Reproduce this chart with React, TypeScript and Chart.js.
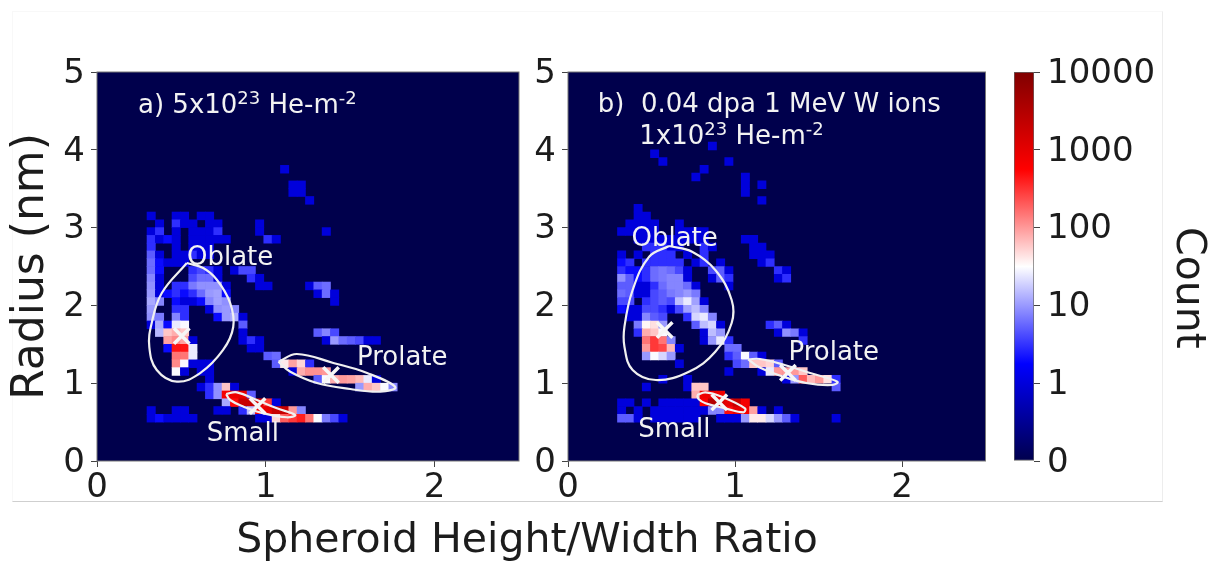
import React, { useEffect, useRef } from "react";
import { Chart, registerables } from "chart.js";

Chart.register(...registerables);

const FONT = "'DejaVu Sans', sans-serif";
const INK = "#1c1c1c";
const NOTE = "#f2f2f2";
const NAVY = "#00004c";

// Histogram bin widths in data units
const RATIO_BIN = 0.0494;
const RADIUS_BIN = 0.1;

// Runs of counts: [radius bin, first ratio bin, count, count, ...]
const countsA: number[][] = [
  [37, 22, 1], [35, 23, 1, 1], [34, 23, 1, 1], [33, 25, 1],
  [31, 6, 1], [31, 9, 1, 1], [31, 12, 1, 1],
  [30, 7, 1], [30, 9, 3, 1, 1], [30, 13, 1, 1], [30, 19, 1],
  [29, 6, 1, 3], [29, 9, 1], [29, 11, 1, 1, 1, 3], [29, 19, 1], [29, 27, 1],
  [28, 6, 3, 1, 2, 1], [28, 11, 1, 1, 1, 1, 1], [28, 20, 3, 1],
  [27, 6, 3], [27, 9, 1], [27, 11, 1, 1, 1],
  [26, 6, 5, 1], [26, 9, 1, 1, 3, 1, 1],
  [25, 6, 6, 2, 1, 1, 1],
  [24, 6, 6, 2], [24, 11, 3, 4, 3, 1], [24, 16, 1, 4, 4],
  [23, 6, 8, 1], [23, 11, 4, 6, 6, 1], [23, 18, 3, 1],
  [22, 6, 9, 1], [22, 9, 3, 3, 7, 9, 9, 9, 1], [22, 19, 1, 1], [22, 25, 1, 5, 6],
  [21, 6, 10, 1, 2, 3, 2, 3, 6, 10, 11, 2], [21, 26, 1, 6, 1],
  [20, 6, 12, 8], [20, 9, 2, 1, 1, 2, 8, 11, 9], [20, 28, 1],
  [19, 6, 10], [19, 9, 3, 3], [19, 13, 1, 9, 10, 8],
  [18, 6, 9, 7], [18, 9, 8, 3], [18, 14, 2, 10, 12, 1],
  [17, 6, 1, 12, 2, 25, 30], [17, 17, 5],
  [16, 7, 14, 60, 80, 60], [16, 17, 1], [16, 26, 5, 8, 4],
  [15, 8, 90, 120, 90, 1], [15, 17, 1, 3, 1], [15, 27, 1, 10, 6, 5, 4, 1, 1],
  [14, 8, 2, 450, 450, 25], [14, 18, 1, 1],
  [13, 9, 150, 150, 25], [13, 20, 5, 6],
  [12, 9, 120, 30, 1, 1, 1], [12, 21, 5, 40, 90, 50, 3],
  [11, 9, 30, 1], [11, 12, 1, 1], [11, 23, 1, 80, 110, 110, 100],
  [10, 13, 1], [10, 26, 5, 30, 80, 100, 90, 70, 25, 1],
  [9, 12, 1, 3, 9, 60, 1], [9, 31, 10, 80, 60, 30, 8],
  [8, 13, 3, 9, 700, 800, 1000, 5],
  [7, 15, 12, 500, 2000, 2000, 1500, 300, 1],
  [6, 6, 1], [6, 9, 1, 1], [6, 14, 1, 1], [6, 17, 3, 15, 600, 1000, 2000, 2000, 100, 8],
  [5, 6, 1, 2, 1, 1, 1, 1], [5, 19, 1, 1, 50, 200, 300, 400, 150, 30, 7, 4, 1],
];

const countsB: number[][] = [
  [40, 17, 1], [39, 10, 1], [38, 11, 1], [38, 19, 1], [37, 16, 1], [36, 15, 1], [36, 21, 1],
  [35, 21, 1], [35, 23, 1], [34, 21, 1], [33, 23, 1],
  [32, 8, 1], [31, 8, 1, 1], [30, 7, 1, 1, 1, 1], [30, 13, 1],
  [29, 6, 1, 1, 1, 1, 1], [29, 13, 1, 1, 1, 1],
  [28, 8, 1, 1, 1, 1], [28, 12, 1, 1, 1, 1, 1], [28, 21, 1, 1],
  [27, 9, 3, 3, 3, 1, 1], [27, 16, 3, 1], [27, 22, 1, 1],
  [26, 6, 1], [26, 8, 1], [26, 10, 3, 3, 3], [26, 14, 1], [26, 16, 3], [26, 22, 1, 1, 1],
  [25, 6, 2, 3], [25, 9, 3, 3, 3, 3, 3], [25, 15, 1, 3], [25, 18, 1], [25, 23, 1, 3],
  [24, 6, 3, 2, 2, 3, 6, 7, 6, 4, 1], [24, 17, 4, 5, 1], [24, 25, 3, 1],
  [23, 6, 9, 5, 2, 3, 6, 7, 8, 8, 1], [23, 17, 1, 5, 3], [23, 25, 1, 3],
  [22, 6, 5, 5, 1, 1, 3, 6, 8, 8, 6, 1], [22, 19, 1],
  [21, 6, 6, 5, 1, 1, 4, 5, 7, 8, 10, 7],
  [20, 6, 4, 4], [20, 9, 3, 4, 5, 4, 15, 25, 11, 1],
  [19, 6, 2, 1, 1, 4, 4, 3, 1, 4, 11, 15, 8],
  [18, 7, 1, 1, 8, 5, 4], [18, 14, 3, 20, 25, 8],
  [17, 8, 7, 35, 45, 10], [17, 15, 5, 15, 20, 1], [17, 24, 3, 5, 1],
  [16, 8, 3, 80, 60, 30], [16, 16, 1, 15, 10], [16, 25, 1, 9, 7, 1],
  [15, 9, 150, 300, 150, 8], [15, 16, 1, 10, 25, 3], [15, 28, 3],
  [14, 9, 100, 300, 250, 70, 1], [14, 19, 6, 6],
  [13, 9, 10, 30, 20, 10], [13, 19, 3, 5, 30, 5, 1],
  [12, 13, 1], [12, 20, 4, 6, 60, 60, 50, 5],
  [11, 19, 1], [11, 23, 1, 25, 100, 100, 100, 60],
  [10, 11, 1], [10, 14, 1], [10, 26, 1, 10, 200, 70, 100, 45, 3],
  [9, 9, 1], [9, 14, 1], [9, 15, 60, 60], [9, 32, 5],
  [8, 15, 80, 800, 900, 800],
  [7, 6, 1, 1], [7, 9, 1], [7, 11, 1, 1, 1, 1, 1], [7, 16, 600, 3000, 1500, 1000, 2000, 700],
  [6, 6, 1], [6, 8, 1], [6, 10, 1, 1, 1, 1, 1, 1, 1], [6, 17, 8, 8, 500, 1000, 700, 90, 1], [6, 25, 1],
  [5, 6, 5, 5, 1], [5, 10, 1, 1, 1, 1, 1, 1], [5, 18, 1, 1, 1, 10, 40, 40, 20, 10, 5, 1], [5, 32, 1],
];

// Contours [ratio, radius]
const oblateA = [[0.532, 2.545], [0.384, 2.16], [0.324, 1.774], [0.31, 1.465], [0.354, 1.17], [0.473, 1.02], [0.611, 1.13], [0.747, 1.427], [0.807, 1.722], [0.789, 2.03], [0.71, 2.33], [0.629, 2.48], [0.532, 2.545]];
const prolateA = [[1.075, 1.276], [1.184, 1.375], [1.4, 1.26], [1.6, 1.131], [1.767, 0.951], [1.678, 0.891], [1.5, 0.925], [1.303, 1.003], [1.145, 1.148], [1.075, 1.276]];
const smallA = [[0.765, 0.861], [0.829, 0.883], [0.947, 0.784], [1.066, 0.677], [1.174, 0.591], [1.125, 0.562], [0.986, 0.613], [0.868, 0.698], [0.789, 0.784], [0.765, 0.861]];
const oblateB = [[0.605, 2.763], [0.486, 2.626], [0.387, 2.198], [0.338, 1.726], [0.338, 1.469], [0.387, 1.17], [0.526, 1.041], [0.724, 1.148], [0.882, 1.405], [0.98, 1.774], [0.98, 2.069], [0.882, 2.455], [0.743, 2.69], [0.605, 2.763]];
const prolateB = [[1.079, 1.307], [1.149, 1.311], [1.297, 1.234], [1.455, 1.127], [1.613, 1.019], [1.584, 0.977], [1.435, 0.999], [1.277, 1.093], [1.139, 1.212], [1.079, 1.307]];
const smallB = [[0.773, 0.848], [0.823, 0.883], [0.921, 0.826], [1.06, 0.677], [1.05, 0.626], [0.941, 0.677], [0.823, 0.742], [0.783, 0.793], [0.773, 0.848]];

// Cluster centres [ratio, radius]
const centresA = [[0.502, 1.607], [1.386, 1.105], [0.951, 0.707]];
const centresB = [[0.579, 1.684], [1.317, 1.135], [0.906, 0.754]];

// Labels inside the plots, at [ratio, radius] of the text's left baseline
const notesA = [
  { at: [0.243, 4.47], text: "a) 5x10^{23} He-m^{-2}" },
  { at: [0.533, 2.525], text: "Oblate" },
  { at: [1.54, 1.23], text: "Prolate" },
  { at: [0.65, 0.26], text: "Small" },
];
const notesB = [
  { at: [0.178, 4.49], text: "b)  0.04 dpa 1 MeV W ions" },
  { at: [0.427, 4.08], text: "1x10^{23} He-m^{-2}" },
  { at: [0.38, 2.76], text: "Oblate" },
  { at: [1.32, 1.3], text: "Prolate" },
  { at: [0.42, 0.31], text: "Small" },
];

const xTicks = [0, 1, 2];
const yTicks = [0, 1, 2, 3, 4, 5];
const colorbarLabels = ["0", "1", "10", "100", "1000", "10000"];
const colorbarSteps = [0, 1, 2, 3, 4, 5];
const seismicStops: [number, number[]][] = [
  [0, [0, 0, 76]],
  [0.25, [0, 0, 255]],
  [0.5, [255, 255, 255]],
  [0.75, [255, 0, 0]],
  [1, [128, 0, 0]],
];

function colourOf(count: number): string {
  const p = count <= 1 ? 0.2 * count : 0.2 + 0.2 * Math.log10(count);
  for (let i = 1; i < seismicStops.length; i++) {
    const [p1, c1] = seismicStops[i];
    const [p0, c0] = seismicStops[i - 1];
    if (p <= p1) {
      const t = (p - p0) / (p1 - p0);
      const m = c0.map((v, k) => Math.round(v + (c1[k] - v) * t));
      return `rgb(${m[0]},${m[1]},${m[2]})`;
    }
  }
  return "rgb(128,0,0)";
}

function toCells(runs: number[][]) {
  const cells: { x: number; y: number[]; count: number }[] = [];
  for (const [row, first, ...counts] of runs) {
    counts.forEach((count, i) => {
      cells.push({
        x: (first + i + 0.5) * RATIO_BIN,
        y: [row * RADIUS_BIN, (row + 1) * RADIUS_BIN],
        count,
      });
    });
  }
  return cells;
}

const contourDataset = (pts: number[][]) => ({
  type: "line",
  data: pts.map(([x, y]) => ({ x, y })),
  borderColor: "#f0f0f0",
  borderWidth: 2.2,
  tension: 0.4,
  pointRadius: 0,
  fill: false,
  order: 2,
});

const framePlugin = {
  id: "frame",
  beforeDatasetsDraw(chart: any) {
    if (!chart.options.plugins.frame?.fill) return;
    const { ctx, chartArea: a } = chart;
    ctx.save();
    ctx.fillStyle = NAVY;
    ctx.fillRect(a.left, a.top, a.right - a.left, a.bottom - a.top);
    ctx.restore();
  },
  afterDatasetsDraw(chart: any) {
    if (!chart.options.plugins.frame?.fill) return;
    const { ctx, chartArea: a } = chart;
    ctx.save();
    ctx.strokeStyle = "#777";
    ctx.lineWidth = 1;
    ctx.strokeRect(a.left, a.top, a.right - a.left, a.bottom - a.top);
    ctx.restore();
  },
};

const notesPlugin = {
  id: "notes",
  afterDatasetsDraw(chart: any) {
    const { ctx, scales } = chart;
    const cfg = chart.options.plugins.notes || {};
    ctx.save();
    ctx.fillStyle = NOTE;
    ctx.textBaseline = "alphabetic";
    ctx.textAlign = "left";
    for (const n of cfg.items || []) {
      let px = scales.x.getPixelForValue(n.at[0]);
      const py = scales.y.getPixelForValue(n.at[1]);
      n.text.split(/\^\{(.*?)\}/).forEach((part: string, i: number) => {
        const sup = i % 2 === 1;
        ctx.font = `${sup ? 18 : 26}px ${FONT}`;
        ctx.fillText(part, px, py - (sup ? 9 : 0));
        px += ctx.measureText(part).width;
      });
    }
    ctx.restore();
  },
};

const pageTextPlugin = {
  id: "pageText",
  afterDraw(chart: any) {
    const { ctx } = chart;
    const t = chart.options.plugins.pageText;
    if (!t?.text) return;
    ctx.save();
    ctx.translate(t.x, t.y);
    ctx.rotate(t.rotate || 0);
    ctx.font = `${t.size}px ${FONT}`;
    ctx.fillStyle = INK;
    ctx.textAlign = "center";
    ctx.textBaseline = "middle";
    ctx.fillText(t.text, 0, 0);
    ctx.restore();
  },
};

function panelConfig(opts: {
  runs: number[][];
  contours: number[][][];
  centres: number[][];
  notes: any[];
  left: number;
  right: number;
  pageText?: any;
  yTitle?: string;
}) {
  return {
    type: "bar",
    data: {
      datasets: [
        {
          type: "bar",
          data: toCells(opts.runs),
          backgroundColor: (c: any) => colourOf(c.raw?.count ?? 0),
          borderWidth: 0,
          grouped: false,
          barPercentage: 1,
          categoryPercentage: 1,
          order: 3,
        },
        ...opts.contours.map(contourDataset),
        {
          type: "scatter",
          data: opts.centres.map(([x, y]) => ({ x, y })),
          pointStyle: "crossRot",
          pointRadius: 11,
          pointBorderWidth: 3.5,
          pointBorderColor: "#f6f6f6",
          showLine: false,
          order: 1,
        },
      ],
    },
    options: {
      responsive: false,
      animation: false,
      layout: { padding: { left: 0, right: opts.right, top: 72, bottom: 0 } },
      scales: {
        x: {
          type: "linear",
          min: 0,
          max: 2.5,
          offset: false,
          afterBuildTicks: (s: any) => {
            s.ticks = xTicks.map((value) => ({ value }));
          },
          afterFit: (s: any) => {
            s.height = 103;
          },
          ticks: { font: { family: FONT, size: 34 }, color: INK, padding: 1, maxRotation: 0, autoSkip: false },
          grid: { display: true, drawOnChartArea: false, offset: false, tickLength: 6, color: "#444", tickWidth: 1 },
          border: { display: false },
        },
        y: {
          type: "linear",
          min: 0,
          max: 5,
          afterBuildTicks: (s: any) => {
            s.ticks = yTicks.map((value) => ({ value }));
          },
          afterFit: (s: any) => {
            s.width = opts.left;
          },
          title: opts.yTitle
            ? { display: true, text: opts.yTitle, color: INK, font: { family: FONT, size: 44 }, padding: { top: 5, bottom: 0 } }
            : { display: false },
          ticks: { font: { family: FONT, size: 34 }, color: INK, padding: 6, autoSkip: false, labelOffset: 2 },
          grid: { display: true, drawOnChartArea: false, tickLength: 6, color: "#444", tickWidth: 1 },
          border: { display: false },
        },
      },
      plugins: {
        legend: { display: false },
        tooltip: { enabled: false },
        frame: { fill: true },
        notes: { items: opts.notes },
        pageText: opts.pageText,
      },
    },
    plugins: [framePlugin, notesPlugin, pageTextPlugin],
  };
}

const colorbarConfig = {
  type: "bar",
  data: {
    labels: ["Count"],
    datasets: [
      {
        data: [[0, 5]],
        backgroundColor: (c: any) => {
          const a = c.chart.chartArea;
          if (!a) return "#fff";
          const g = c.chart.ctx.createLinearGradient(0, a.bottom, 0, a.top);
          seismicStops.forEach(([p, m]) => g.addColorStop(p, `rgb(${m[0]},${m[1]},${m[2]})`));
          return g;
        },
        borderWidth: 1,
        borderColor: "#666",
        borderSkipped: false,
        barPercentage: 1,
        categoryPercentage: 1,
      },
    ],
  },
  options: {
    responsive: false,
    animation: false,
    layout: { padding: { left: 14, right: 0, top: 72, bottom: 103 } },
    scales: {
      x: { display: false },
      y: {
        position: "right",
        min: 0,
        max: 5,
        afterBuildTicks: (s: any) => {
          s.ticks = colorbarSteps.map((value) => ({ value }));
        },
        afterFit: (s: any) => {
          s.width = 181;
        },
        ticks: {
          font: { family: FONT, size: 34 },
          color: INK,
          padding: 7,
          labelOffset: 2,
          callback: (v: number) => colorbarLabels[Math.round(v)],
        },
        grid: { display: true, drawOnChartArea: false, tickLength: 6, color: "#444", tickWidth: 1 },
        border: { display: false },
      },
    },
    plugins: {
      legend: { display: false },
      tooltip: { enabled: false },
      pageText: { text: "Count", x: 188, y: 288, size: 41, rotate: Math.PI / 2 },
    },
  },
  plugins: [pageTextPlugin],
};

export default function App() {
  const aRef = useRef<HTMLCanvasElement>(null);
  const bRef = useRef<HTMLCanvasElement>(null);
  const cRef = useRef<HTMLCanvasElement>(null);

  useEffect(() => {
    const a = new Chart(
      aRef.current as any,
      panelConfig({
        runs: countsA,
        contours: [oblateA, prolateA, smallA],
        centres: centresA,
        notes: notesA,
        left: 97,
        right: 535,
        yTitle: "Radius (nm)",
        pageText: { text: "Spheroid Height/Width Ratio", x: 527, y: 541, size: 41 },
      }) as any,
    );
    const b = new Chart(
      bRef.current as any,
      panelConfig({
        runs: countsB,
        contours: [oblateB, prolateB, smallB],
        centres: centresB,
        notes: notesB,
        left: 48,
        right: 10,
      }) as any,
    );
    const c = new Chart(cRef.current as any, colorbarConfig as any);
    return () => {
      a.destroy();
      b.destroy();
      c.destroy();
    };
  }, []);

  const abs = (left: number): React.CSSProperties => ({ position: "absolute", left, top: 0, filter: "blur(0.5px)" });
  return (
    <div style={{ position: "fixed", left: 0, top: 0, width: 1215, height: 564, overflow: "hidden", background: "#fff" }}>
      <div
        style={{
          position: "absolute",
          left: 12,
          top: 11,
          width: 1149,
          height: 489,
          borderLeft: "1px solid #f8f8f8",
          borderTop: "1px solid #f8f8f8",
          borderRight: "1px solid #ededed",
          borderBottom: "1px solid #cfcfcf",
        }}
      />
      <canvas ref={aRef} width={1054} height={564} style={abs(0)} />
      <canvas ref={bRef} width={480} height={564} style={abs(520)} />
      <canvas ref={cRef} width={215} height={564} style={abs(1000)} />
    </div>
  );
}
